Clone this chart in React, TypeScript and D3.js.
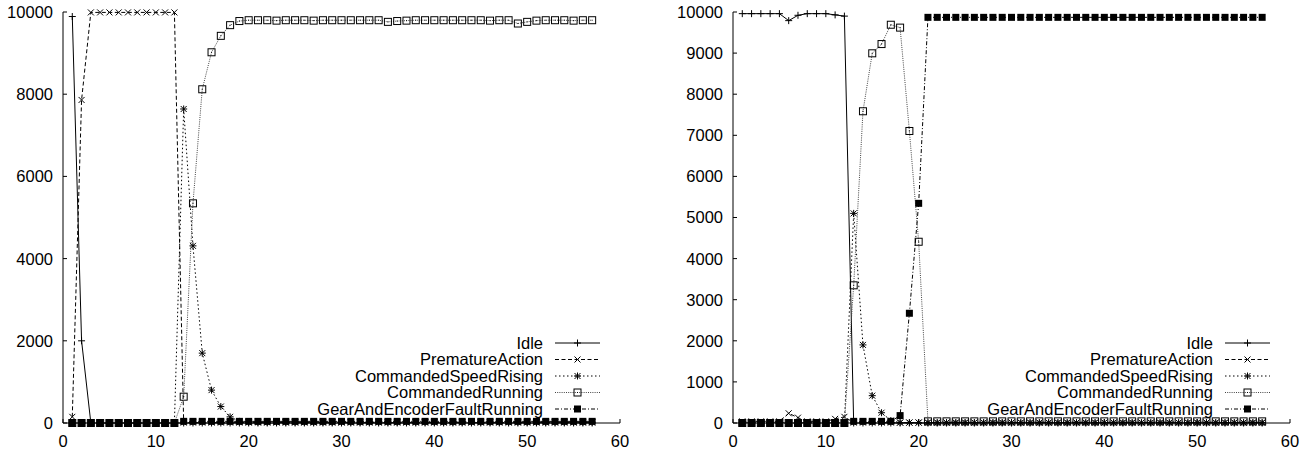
import * as d3 from 'd3';

const WIDTH = 1307;
const HEIGHT = 450;
const FONT = '"Liberation Sans", Arial, Helvetica, sans-serif';

// time steps 1..57
const STEPS = d3.range(1, 58);

const SERIES_NAMES = ['Idle', 'PrematureAction', 'CommandedSpeedRising', 'CommandedRunning', 'GearAndEncoderFaultRunning'];

// ---- left chart ----
const L_IDLE = [
  9890, 2000, 0, 0, 0, 0, 0, 0, 0, 0,
  0, 0, 0, 0, 0, 0, 0, 0, 0, 0,
  0, 0, 0, 0, 0, 0, 0, 0, 0, 0,
  0, 0, 0, 0, 0, 0, 0, 0, 0, 0,
  0, 0, 0, 0, 0, 0, 0, 0, 0, 0,
  0, 0, 0, 0, 0, 0, 0,
];
const L_PREMATURE = [
  150, 7860, 9990, 9990, 9990, 9990, 9990, 9990, 9990, 9990,
  9990, 9990, 10, 10, 10, 10, 10, 10, 10, 10,
  10, 10, 10, 10, 10, 10, 10, 10, 10, 10,
  10, 10, 10, 10, 10, 10, 10, 10, 10, 10,
  10, 10, 10, 10, 10, 10, 10, 10, 10, 10,
  10, 10, 10, 10, 10, 10, 10,
];
const L_SPEED_RISING = [
  0, 0, 0, 0, 0, 0, 0, 0, 0, 0,
  0, 0, 7640, 4310, 1700, 800, 400, 150, 40, 20,
  20, 20, 20, 20, 20, 20, 20, 20, 20, 20,
  20, 20, 20, 20, 20, 20, 20, 20, 20, 20,
  20, 20, 20, 20, 20, 20, 20, 20, 20, 20,
  20, 20, 20, 20, 20, 20, 20,
];
const L_RUNNING = [
  0, 0, 0, 0, 0, 0, 0, 0, 0, 0,
  0, 0, 640, 5345, 8120, 9020, 9420, 9680, 9780, 9800,
  9800, 9800, 9790, 9800, 9800, 9800, 9790, 9800, 9800, 9800,
  9800, 9800, 9800, 9800, 9760, 9780, 9790, 9800, 9800, 9800,
  9800, 9800, 9800, 9800, 9800, 9790, 9800, 9800, 9720, 9760,
  9790, 9800, 9800, 9800, 9790, 9800, 9800,
];
const L_FAULT = [
  0, 0, 0, 0, 0, 0, 0, 0, 0, 0,
  0, 0, 40, 40, 40, 40, 40, 40, 40, 40,
  40, 40, 40, 40, 40, 40, 40, 40, 40, 40,
  40, 40, 40, 40, 40, 40, 40, 40, 40, 40,
  40, 40, 40, 40, 40, 40, 40, 40, 40, 40,
  40, 40, 40, 40, 40, 40, 40,
];

// ---- right chart ----
const R_IDLE = [
  9960, 9960, 9960, 9960, 9960, 9790, 9920, 9960, 9960, 9960,
  9930, 9900, 0, 0, 0, 0, 0, 0, 0, 0,
  0, 0, 0, 0, 0, 0, 0, 0, 0, 0,
  0, 0, 0, 0, 0, 0, 0, 0, 0, 0,
  0, 0, 0, 0, 0, 0, 0, 0, 0, 0,
  0, 0, 0, 0, 0, 0, 0,
];
const R_PREMATURE = [
  40, 40, 40, 40, 40, 236, 130, 40, 40, 40,
  100, 150, 10, 10, 10, 10, 10, 10, 10, 10,
  10, 10, 10, 10, 10, 10, 10, 10, 10, 10,
  10, 10, 10, 10, 10, 10, 10, 10, 10, 10,
  10, 10, 10, 10, 10, 10, 10, 10, 10, 10,
  10, 10, 10, 10, 10, 10, 10,
];
const R_SPEED_RISING = [
  10, 10, 10, 10, 10, 10, 10, 10, 10, 10,
  10, 10, 5100, 1900, 665, 250, 60, 10, 10, 10,
  10, 10, 10, 10, 10, 10, 10, 10, 10, 10,
  10, 10, 10, 10, 10, 10, 10, 10, 10, 10,
  10, 10, 10, 10, 10, 10, 10, 10, 10, 10,
  10, 10, 10, 10, 10, 10, 10,
];
const R_RUNNING = [
  0, 0, 0, 0, 0, 0, 0, 0, 0, 0,
  0, 0, 3350, 7585, 8995, 9220, 9690, 9620, 7105, 4410,
  40, 40, 40, 40, 40, 40, 40, 40, 40, 40,
  40, 40, 40, 40, 40, 40, 40, 40, 40, 40,
  40, 40, 40, 40, 40, 40, 40, 40, 40, 40,
  40, 40, 40, 40, 40, 40, 40,
];
const R_FAULT = [
  0, 0, 0, 0, 0, 0, 0, 0, 0, 0,
  0, 0, 40, 40, 40, 40, 40, 180, 2670, 5345,
  9870, 9870, 9870, 9870, 9870, 9870, 9870, 9870, 9870, 9870,
  9870, 9870, 9870, 9870, 9870, 9870, 9870, 9870, 9870, 9870,
  9870, 9870, 9870, 9870, 9870, 9870, 9870, 9870, 9870, 9870,
  9870, 9870, 9870, 9870, 9870, 9870, 9870,
];

const X_TICKS = [0, 10, 20, 30, 40, 50, 60];
const L_Y_TICKS = [0, 2000, 4000, 6000, 8000, 10000];
const R_Y_TICKS = [0, 1000, 2000, 3000, 4000, 5000, 6000, 7000, 8000, 9000, 10000];

// gnuplot-like line styles
const STYLES = [
  { dash: null, stroke: '#000', marker: 'plus' },
  { dash: '4,2.5', stroke: '#000', marker: 'cross' },
  { dash: '1.5,2.5', stroke: '#000', marker: 'star' },
  { dash: '1,1.2', stroke: '#444', marker: 'box' },
  { dash: '4,2,1,2', stroke: '#000', marker: 'fbox' },
];

function Marker({ type, x, y }: { type: string; x: number; y: number }) {
  const s = 3.5;
  const c = 3;
  const plus = (
    <g key="p">
      <line x1={x - s} x2={x + s} y1={y} y2={y} />
      <line x1={x} x2={x} y1={y - s} y2={y + s} />
    </g>
  );
  const cross = (
    <g key="c">
      <line x1={x - c} x2={x + c} y1={y - c} y2={y + c} />
      <line x1={x - c} x2={x + c} y1={y + c} y2={y - c} />
    </g>
  );
  if (type === 'plus') return plus;
  if (type === 'cross') return cross;
  if (type === 'star') return <g>{plus}{cross}</g>;
  if (type === 'box')
    return (
      <g>
        <rect x={x - 3.5} y={y - 3.5} width={7} height={7} fill="none" />
        <rect x={x - 0.5} y={y - 0.5} width={1} height={1} fill="#000" stroke="none" />
      </g>
    );
  return <rect x={x - 3.5} y={y - 3.5} width={7} height={7} fill="#000" stroke="none" />;
}

function Panel({ left, right, yTicks, series }: { left: number; right: number; yTicks: number[]; series: number[][] }) {
  const top = 12;
  const bottom = 423;
  const x = d3.scaleLinear().domain([0, 60]).range([left, right]);
  const y = d3.scaleLinear().domain([0, 10000]).range([bottom, top]);
  const line = d3.line<number>().x((_, i) => x(STEPS[i])).y((d) => y(d));
  const tick = 4;
  const legendTop = 343;
  const legendStep = 16.5;

  return (
    <g>
      {/* axes */}
      <path d={`M${left},${top}V${bottom}H${right}`} fill="none" stroke="#000" strokeWidth={1} />
      {yTicks.map((t) => (
        <g key={'y' + t}>
          <line x1={left} x2={left + tick} y1={y(t)} y2={y(t)} stroke="#000" />
          <text x={left - 10} y={y(t)} dy="0.36em" textAnchor="end" fontSize={16.5} fontFamily={FONT}>
            {t}
          </text>
        </g>
      ))}
      {X_TICKS.map((t) => (
        <g key={'x' + t}>
          <line x1={x(t)} x2={x(t)} y1={bottom} y2={bottom - tick} stroke="#000" />
          <text x={x(t)} y={447} textAnchor="middle" fontSize={16.5} fontFamily={FONT}>
            {t}
          </text>
        </g>
      ))}

      {/* series */}
      {series.map((vals, si) => {
        const st = STYLES[si];
        return (
          <g key={'s' + si}>
            <path
              d={line(vals) || ''}
              fill="none"
              stroke={st.stroke}
              strokeWidth={1}
              strokeDasharray={st.dash || undefined}
            />
            <g stroke="#000" strokeWidth={1}>
              {vals.map((v, i) => (
                <Marker key={i} type={st.marker} x={x(STEPS[i])} y={y(v)} />
              ))}
            </g>
          </g>
        );
      })}

      {/* legend */}
      {SERIES_NAMES.map((name, i) => {
        const st = STYLES[i];
        const ly = legendTop + i * legendStep;
        const x1 = right - 65;
        const x2 = right - 20;
        return (
          <g key={'l' + name}>
            <text x={right - 77} y={ly} dy="0.36em" textAnchor="end" fontSize={16.5} fontFamily={FONT}>
              {name}
            </text>
            <line x1={x1} x2={x2} y1={ly} y2={ly} stroke={st.stroke} strokeDasharray={st.dash || undefined} />
            <g stroke="#000" strokeWidth={1}>
              <Marker type={st.marker} x={(x1 + x2) / 2} y={ly} />
            </g>
          </g>
        );
      })}
    </g>
  );
}

export default function App() {
  return (
    <svg
      width={WIDTH}
      height={HEIGHT}
      viewBox={`0 0 ${WIDTH} ${HEIGHT}`}
      style={{ position: 'absolute', left: 0, top: 0, background: '#fff' }}
    >
      <rect width={WIDTH} height={HEIGHT} fill="#fff" />
      <Panel left={63} right={620} yTicks={L_Y_TICKS} series={[L_IDLE, L_PREMATURE, L_SPEED_RISING, L_RUNNING, L_FAULT]} />
      <Panel left={733} right={1290} yTicks={R_Y_TICKS} series={[R_IDLE, R_PREMATURE, R_SPEED_RISING, R_RUNNING, R_FAULT]} />
    </svg>
  );
}
